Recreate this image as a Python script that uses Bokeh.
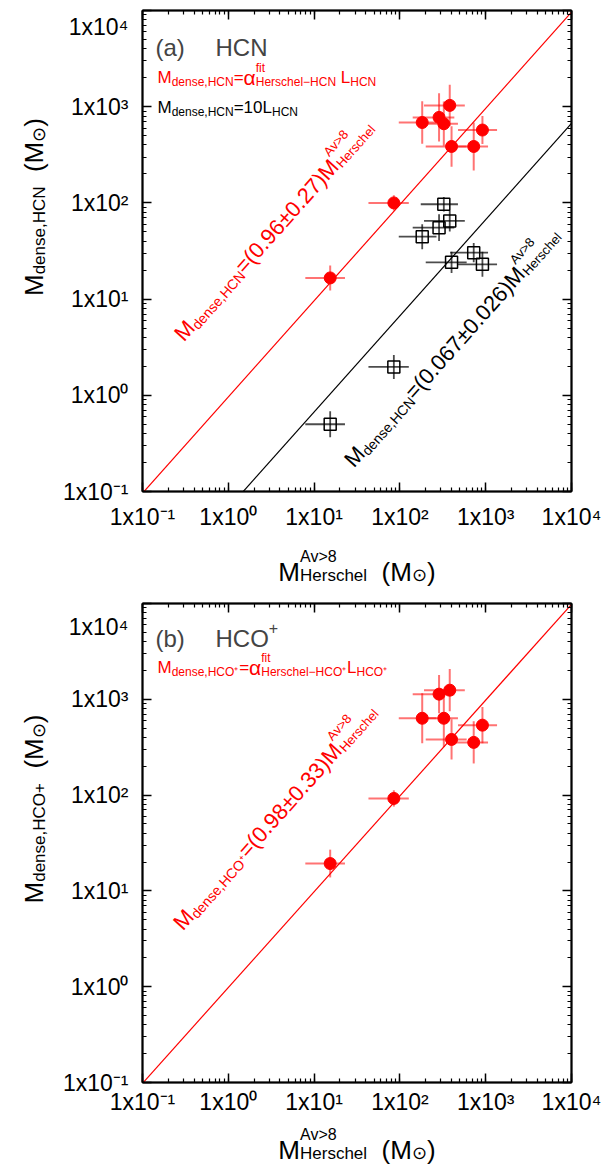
import math
from bokeh.plotting import figure
from bokeh.models import LogAxis, LogTicker, CustomJSTickFormatter, Label, Range1d
from bokeh.layouts import column, row
from bokeh.embed import file_html
from bokeh.resources import INLINE

# ---------------- data ----------------
m_herschel = [15.4, 85.0, 182.0, 286.0, 325.0, 381.0, 400.0, 725.0, 916.0]
m_herschel_err = [7.5, 42.0, 85.0, 145.0, 150.0, 190.0, 200.0, 340.0, 440.0]

m_dense_hcn_fit = [16.6, 100.0, 685.0, 774.0, 665.0, 1032.0, 386.0, 386.0, 572.0]
m_dense_hcn_fit_err_dex = [0.13, 0.08, 0.22, 0.25, 0.23, 0.215, 0.21, 0.25, 0.145]

m_dense_hcn_10 = [0.50, 1.97, 44.6, 55.3, 96.8, 64.9, 24.1, 30.4, 23.0]
m_dense_hcn_10_err_dex = [0.135, 0.125, 0.13, 0.14, 0.075, 0.11, 0.11, 0.10, 0.13]

m_dense_hco_fit = [19.3, 92.3, 634.0, 1132.0, 634.0, 1245.0, 381.0, 355.0, 537.0]
m_dense_hco_fit_err_dex = [0.145, 0.085, 0.26, 0.20, 0.30, 0.22, 0.21, 0.22, 0.19]

fit_hcn, fit_hcn_err = 0.96, 0.27
fit_hcn10, fit_hcn10_err = 0.067, 0.026
fit_hco, fit_hco_err = 0.98, 0.33

axis_min, axis_max = 0.1, 1.0e4
tick_labels = ["1x10⁻¹", "1x10⁰", "1x10¹", "1x10²", "1x10³", "1x10⁴"]
line_x = [axis_min, axis_max]

# ---------------- styling / layout ----------------
FONT = "Liberation Sans"
RED = "#ff0000"
YT_W = 54                 # width of the y-title strip
MAIN_W = 607 - YT_W
BORDER_L = 142 - YT_W     # frame left at page x = 142
FRAME_W, FRAME_H = 429, 481

W = {' ': 0.278, '(': 0.333, ')': 0.333, '=': 0.584, '±': 0.584, '.': 0.278, ',': 0.278,
     '+': 0.584, '−': 0.584, '-': 0.333, '>': 0.584, 'A': 0.667, 'C': 0.722, 'H': 0.722,
     'L': 0.556, 'M': 0.833, 'N': 0.722, 'O': 0.778, 'a': 0.556, 'b': 0.556, 'c': 0.5,
     'd': 0.556, 'e': 0.556, 'f': 0.278, 'h': 0.556, 'i': 0.222, 'l': 0.222, 'n': 0.556,
     'r': 0.333, 's': 0.5, 't': 0.278, 'v': 0.5, 'x': 0.5, 'α': 0.578, '⊙': 0.84, '⁺': 0.4}
for d in "0123456789":
    W[d] = 0.556


def tw(s, size):
    return sum(W.get(c, 0.6) for c in s) * size


def compose(p, origin, pieces, px, py, angle=0.0, color="black", anchor="start"):
    """origin = (page x of frame left, page y of frame bottom);
    pieces: (text, size, perpendicular shift, stacked-with-next)"""
    fl, fb = origin
    ux, uy = math.cos(angle), math.sin(angle)
    nx, ny = -math.sin(angle), math.cos(angle)
    total, pend = 0.0, 0.0
    for text, size, shift, stack in pieces:
        w = tw(text, size)
        if stack:
            pend = max(pend, w)
        else:
            total += max(w, pend)
            pend = 0.0
    sx0, sy0 = px - fl, fb - py
    if anchor == "center":
        sx0 -= ux * total / 2
        sy0 -= uy * total / 2
    adv, pend = 0.0, 0.0
    for text, size, shift, stack in pieces:
        body = text.lstrip(" ")
        lead = tw(text[:len(text) - len(body)], size)
        if body:
            a = adv + lead
            x = sx0 + ux * a + nx * shift
            y = sy0 + uy * a + ny * shift
            p.add_layout(Label(x=x, y=y, x_units="screen", y_units="screen", text=body,
                               text_font=FONT, text_font_size=f"{size}px", text_color=color,
                               angle=angle, text_align="left", text_baseline="alphabetic"))
        w = tw(text, size)
        if stack:
            pend = max(pend, w)
        else:
            adv += max(w, pend)
            pend = 0.0


def text_strip(width, height):
    p = figure(width=width, height=height, x_range=Range1d(0, 1), y_range=Range1d(0, 1),
               x_axis_location=None, y_axis_location=None, output_backend="svg",
               toolbar_location=None, title=None, min_border=0)
    p.grid.visible = False
    p.outline_line_color = None
    return p


def make_panel(height, border_top, label_standoff):
    border_bottom = height - border_top - FRAME_H
    p = figure(width=MAIN_W, height=height, x_axis_type="log", y_axis_type="log",
               x_range=Range1d(axis_min, axis_max), y_range=Range1d(axis_min, axis_max),
               output_backend="svg", toolbar_location=None, title=None,
               min_border_left=BORDER_L, min_border_right=MAIN_W - BORDER_L - FRAME_W,
               min_border_top=border_top, min_border_bottom=border_bottom)
    p.grid.visible = False
    p.outline_line_color = "black"
    p.outline_line_width = 1.5
    bottom_ax, left_ax = p.below[0], p.left[0]

    bottom_ax.formatter = CustomJSTickFormatter(args=dict(labels=tick_labels), code="""
        const i = Math.round(Math.log10(tick)) + 1;
        return (i >= 0 && i < labels.length) ? labels[i] : "";""")
    left_ax.formatter = CustomJSTickFormatter(args=dict(labels=tick_labels), code="""
        const i = Math.round(Math.log10(tick)) + 1;
        if (i == labels.length - 1) return "\\n" + labels[i];
        return (i >= 0 && i < labels.length) ? labels[i] : "";""")
    bottom_ax.major_label_standoff = label_standoff
    left_ax.major_label_standoff = 14
    left_ax.major_label_text_line_height = 0.5

    top_ax = LogAxis(formatter=CustomJSTickFormatter(code="return '';"))
    right_ax = LogAxis(formatter=CustomJSTickFormatter(code="return '';"))
    p.add_layout(top_ax, "above")
    p.add_layout(right_ax, "right")
    for ax in (top_ax, right_ax):
        ax.major_label_standoff = 0
        ax.major_label_text_font_size = "0px"

    for ax in (bottom_ax, left_ax, top_ax, right_ax):
        ax.ticker = LogTicker(num_minor_ticks=10)
        ax.axis_line_width = 2
        ax.axis_line_color = "black"
        ax.major_tick_in = 9
        ax.major_tick_out = 0
        ax.minor_tick_in = 4
        ax.minor_tick_out = 0
        ax.major_tick_line_width = 1.5
        ax.minor_tick_line_width = 1.2
        ax.major_tick_line_color = "black"
        ax.minor_tick_line_color = "black"
    for ax in (bottom_ax, left_ax):
        ax.major_label_text_font = FONT
        ax.major_label_text_font_size = "23px"
        ax.major_label_text_color = "black"
    return p


def error_bars(p, xs, xerr, ys, ydex, color, alpha, width):
    p.segment(x0=[x - e for x, e in zip(xs, xerr)], x1=[x + e for x, e in zip(xs, xerr)],
              y0=ys, y1=ys, line_color=color, line_alpha=alpha, line_width=width)
    p.segment(x0=xs, x1=xs, y0=[y * 10 ** (-d) for y, d in zip(ys, ydex)],
              y1=[y * 10 ** d for y, d in zip(ys, ydex)],
              line_color=color, line_alpha=alpha, line_width=width)


ANG = math.atan2(FRAME_H / 5, FRAME_W / 5)

# page geometry of the strips
TOP_MAIN_H, TOP_BT = 535, 10           # frame (a): page y 10..491
TOP_XT_H = 65                           # x-title strip (a): page y 535..600
BOT_MAIN_H, BOT_BT = 517, 3             # frame (b): page y 603..1084
BOT_XT_H = 48                           # x-title strip (b): page y 1117..1165

FA = (142, TOP_BT + FRAME_H)                          # frame (a) origin
FB = (142, TOP_MAIN_H + TOP_XT_H + BOT_BT + FRAME_H)  # frame (b) origin

X_TITLE = [("M", 26, 0, False), ("Av>8", 16, 15, True), ("Herschel", 17, -4, False),
           ("  (M", 26, 0, False), ("⊙", 18, -3, False), (")", 26, 0, False)]

# ======================= panel (a) HCN =======================
p1 = make_panel(TOP_MAIN_H, TOP_BT, 12)
p1.line(line_x, [fit_hcn * x for x in line_x], line_color=RED, line_width=1.2)
p1.line(line_x, [fit_hcn10 * x for x in line_x], line_color="black", line_width=1.2)
error_bars(p1, m_herschel, m_herschel_err, m_dense_hcn_10, m_dense_hcn_10_err_dex, "black", 0.7, 1.8)
p1.scatter(m_herschel, m_dense_hcn_10, marker="square", size=12, fill_color=None,
           line_color="black", line_width=1.5)
error_bars(p1, m_herschel, m_herschel_err, m_dense_hcn_fit, m_dense_hcn_fit_err_dex, RED, 0.55, 2)
p1.scatter(m_herschel, m_dense_hcn_fit, marker="circle", size=12, fill_color=RED, line_color=RED)

compose(p1, FA, [("(a)", 24, 0, False)], 155, 47, color="#444444")
compose(p1, FA, [("HCN", 24, 0, False)], 215, 47, color="#444444")
compose(p1, FA, [("M", 17, 0, False), ("dense,HCN", 12, -4, False), ("=", 17, 0, False),
                 ("α", 21, 0, False), ("fit", 12, 10, True), ("Herschel−HCN", 12, -4, False),
                 (" ", 17, 0, False), ("L", 17, 0, False), ("HCN", 12, -4, False)],
        157, 77, color=RED)
compose(p1, FA, [("M", 17, 0, False), ("dense,HCN", 12, -4, False), ("=10L", 17, 0, False),
                 ("HCN", 12, -4, False)], 157, 107, color="black")
compose(p1, FA, [("M", 22, 0, False), ("dense,HCN", 14, -5, False),
                 (f"=({fit_hcn:.2f}±{fit_hcn_err:.2f})M", 22, 0, False),
                 ("Av>8", 13, 12, True), ("Herschel", 13, -5, False)],
        178, 337, angle=ANG, color=RED)
compose(p1, FA, [("M", 22, 0, False), ("dense,HCN", 14, -5, False),
                 (f"=({fit_hcn10:.3f}±{fit_hcn10_err:.3f})M", 22, 0, False),
                 ("Av>8", 13, 12, True), ("Herschel", 13, -5, False)],
        348, 463, angle=ANG, color="black")

yt1 = text_strip(YT_W, TOP_MAIN_H)
compose(yt1, (0, TOP_MAIN_H), [("M", 26, 0, False), ("dense,HCN", 17, -6, False),
                               ("  (M", 26, 0, False), ("⊙", 18, -5, False), (")", 26, 0, False)],
        33, 250.5, angle=math.pi / 2, color="black", anchor="center")
xt1 = text_strip(607, TOP_XT_H)
compose(xt1, (0, TOP_MAIN_H + TOP_XT_H), X_TITLE, 356.5, 571, color="black", anchor="center")

# ======================= panel (b) HCO+ =======================
p2 = make_panel(BOT_MAIN_H, BOT_BT, 6)
p2.line(line_x, [fit_hco * x for x in line_x], line_color=RED, line_width=1.2)
error_bars(p2, m_herschel, m_herschel_err, m_dense_hco_fit, m_dense_hco_fit_err_dex, RED, 0.55, 2)
p2.scatter(m_herschel, m_dense_hco_fit, marker="circle", size=12, fill_color=RED, line_color=RED)

compose(p2, FB, [("(b)", 24, 0, False)], 155, 640, color="#444444")
compose(p2, FB, [("HCO", 24, 0, False), ("+", 16, 11, False)], 215, 640, color="#444444")
compose(p2, FB, [("M", 17, 0, False), ("dense,HCO⁺", 12, -4, False), ("=", 17, 0, False),
                 ("α", 21, 0, False), ("fit", 12, 10, True), ("Herschel−HCO⁺", 12, -4, False),
                 ("L", 17, 0, False), ("HCO⁺", 12, -4, False)],
        157, 669, color=RED)
compose(p2, FB, [("M", 22, 0, False), ("dense,HCO⁺", 14, -5, False),
                 (f"=({fit_hco:.2f}±{fit_hco_err:.2f})M", 22, 0, False),
                 ("Av>8", 13, 12, True), ("Herschel", 13, -5, False)],
        177, 928, angle=ANG, color=RED)

Y2 = TOP_MAIN_H + TOP_XT_H
yt2 = text_strip(YT_W, BOT_MAIN_H)
compose(yt2, (0, Y2 + BOT_MAIN_H), [("M", 26, 0, False), ("dense,HCO+", 17, -6, False),
                                    ("  (M", 26, 0, False), ("⊙", 18, -5, False), (")", 26, 0, False)],
        33, FB[1] - FRAME_H / 2, angle=math.pi / 2, color="black", anchor="center")
xt2 = text_strip(607, BOT_XT_H)
compose(xt2, (0, Y2 + BOT_MAIN_H + BOT_XT_H), X_TITLE, 356.5, 1149, color="black", anchor="center")

layout = column(row(yt1, p1), xt1, row(yt2, p2), xt2)
open("out.html", "w").write(file_html(layout, INLINE))
